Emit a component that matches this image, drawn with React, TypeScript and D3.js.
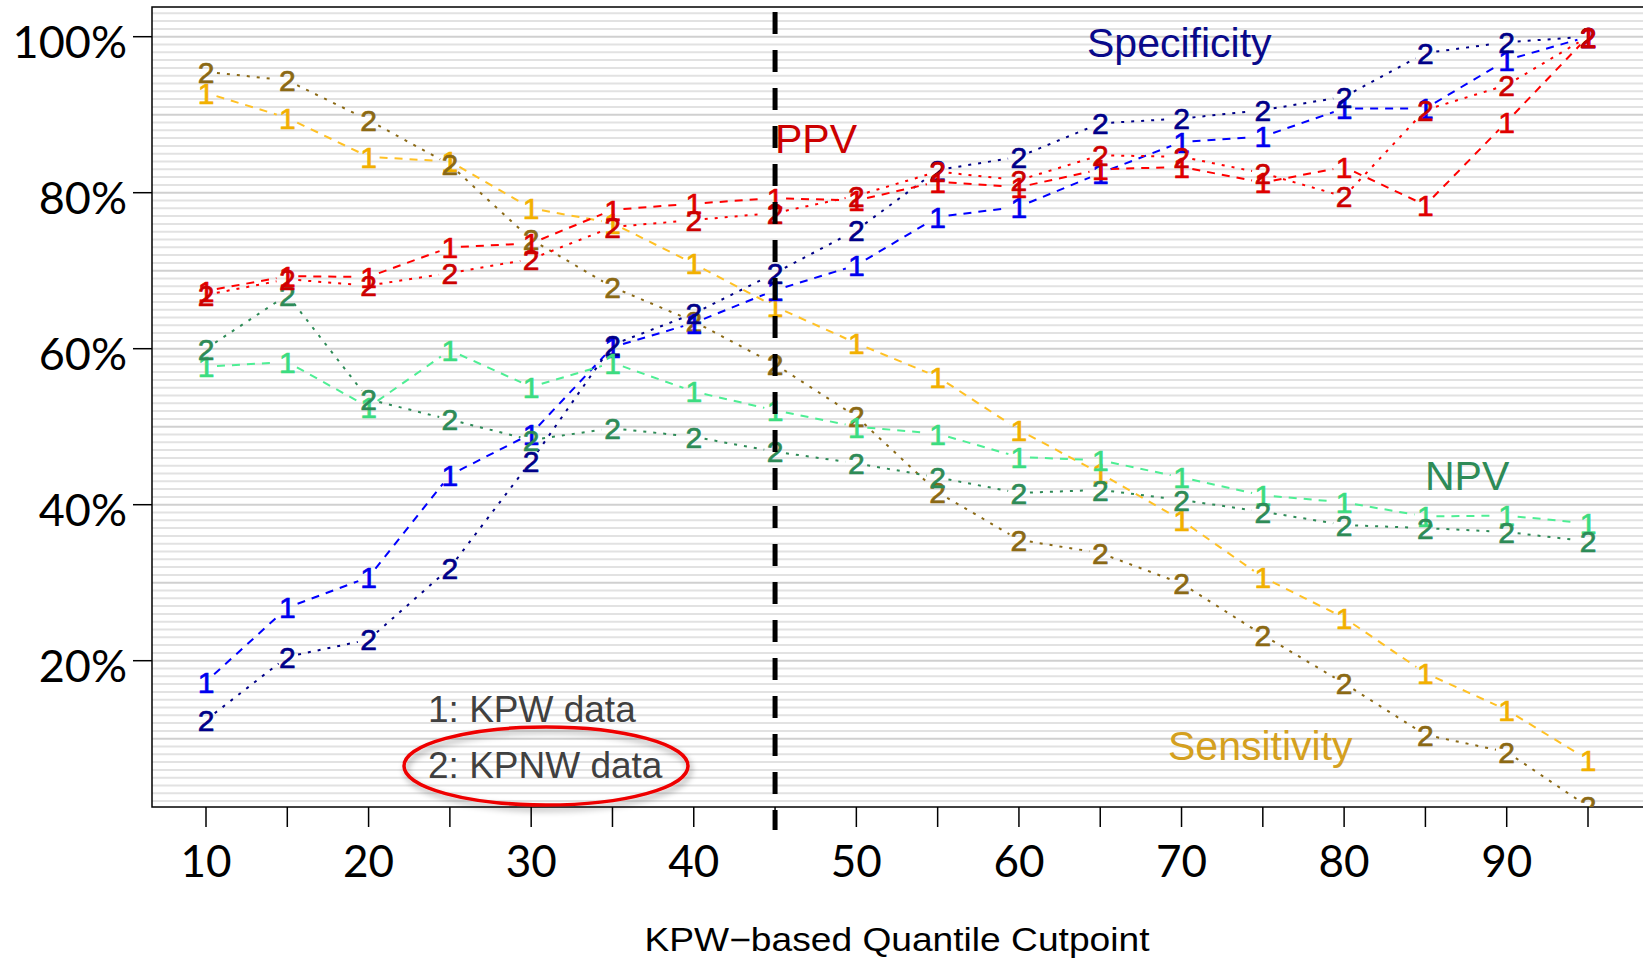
import { useEffect } from 'react';
import * as d3 from 'd3';

// quantile cutpoints (x axis)
const cutpoints = [10, 15, 20, 25, 30, 35, 40, 45, 50, 55, 60, 65, 70, 75, 80, 85, 90, 95];

// 1 = KPW data, 2 = KPNW data (percent)
const specificity1 = [17.3, 26.8, 30.7, 43.8, 49.1, 60.2, 63.3, 67.5, 70.7, 76.9, 78.2, 82.5, 86.5, 87.2, 90.8, 90.8, 97.0, 100];
const specificity2 = [12.4, 20.5, 22.7, 31.9, 45.6, 60.5, 64.5, 69.7, 75.2, 82.9, 84.6, 88.9, 89.5, 90.6, 92.3, 97.9, 99.3, 100];
const ppv1 = [67.4, 69.3, 69.2, 73.0, 73.5, 77.8, 78.6, 79.3, 79.0, 81.4, 80.7, 83.0, 83.3, 81.3, 83.3, 78.4, 89.1, 100];
const ppv2 = [66.9, 68.9, 68.1, 69.7, 71.5, 75.6, 76.5, 77.4, 79.6, 82.7, 81.6, 84.8, 84.6, 82.5, 79.5, 90.6, 93.8, 100];
const npv1 = [57.7, 58.3, 52.5, 59.8, 55.1, 58.2, 54.5, 52.1, 50.0, 49.1, 46.1, 45.7, 43.5, 41.2, 40.3, 38.5, 38.6, 37.6];
const npv2 = [60.0, 66.9, 53.5, 50.9, 48.3, 49.8, 48.7, 46.8, 45.3, 43.5, 41.5, 41.9, 40.6, 39.1, 37.4, 37.0, 36.5, 35.3];
const sensitivity1 = [92.8, 89.6, 84.6, 84.0, 78.0, 76.1, 70.9, 65.4, 60.7, 56.4, 49.6, 44.0, 38.0, 30.7, 25.5, 18.4, 13.7, 7.3];
const sensitivity2 = [95.5, 94.4, 89.3, 83.6, 74.0, 67.9, 63.5, 58.0, 51.3, 41.6, 35.5, 33.8, 29.9, 23.3, 17.1, 10.5, 8.3, 1.3];

const yTicks = [20, 40, 60, 80, 100];
const xLabelTicks = [10, 20, 30, 40, 50, 60, 70, 80, 90];
const cutoffLine = 45;

interface Series {
  values: number[];
  mark: string;
  line: string;
  text: string;
  dash: string;
}

// drawing order: later ones on top
const series: Series[] = [
  { values: sensitivity1, mark: '1', line: '#ffc125', text: '#f2b000', dash: '8,7' },
  { values: sensitivity2, mark: '2', line: '#8b6914', text: '#8b6914', dash: '3,7' },
  { values: specificity1, mark: '1', line: '#0000ff', text: '#0000ee', dash: '8,7' },
  { values: specificity2, mark: '2', line: '#000088', text: '#000088', dash: '3,7' },
  { values: npv1, mark: '1', line: '#4eee94', text: '#3cdc80', dash: '8,7' },
  { values: npv2, mark: '2', line: '#2e8b57', text: '#2e8b57', dash: '3,7' },
  { values: ppv1, mark: '1', line: '#ff0000', text: '#e00000', dash: '8,7' },
  { values: ppv2, mark: '2', line: '#ff0000', text: '#cc0000', dash: '3,7' },
];

const W = 1643;
const H = 961;
const plot = { left: 152, top: 7, right: 1660, bottom: 807 };

const x = d3.scaleLinear().domain([10, 95]).range([206, 1588]);
const y = d3.scaleLinear().domain([0, 100]).range([816.7, 36.7]);

const GAP = 11;
const lineGen = d3.line<[number, number]>().x(d => d[0]).y(d => d[1]);

// segments between points, with a gap around each marker (like type="b")
function segments(values: number[]) {
  const out: string[] = [];
  for (let i = 0; i < values.length - 1; i++) {
    const x0 = x(cutpoints[i]), y0 = y(values[i]);
    const x1 = x(cutpoints[i + 1]), y1 = y(values[i + 1]);
    const len = Math.hypot(x1 - x0, y1 - y0);
    if (len <= GAP * 2) continue;
    const ux = (x1 - x0) / len, uy = (y1 - y0) / len;
    out.push(lineGen([[x0 + ux * GAP, y0 + uy * GAP], [x1 - ux * GAP, y1 - uy * GAP]]) || '');
  }
  return out;
}

const gridValues = d3.range(2, 104, 1);

export default function App() {
  useEffect(() => {
    document.body.style.margin = '0';
  }, []);

  const sans = '"Liberation Sans", Arial, sans-serif';
  const tickFont = 'Lato, "Open Sans", sans-serif';

  return (
    <svg width={W} height={H} style={{ display: 'block', background: '#fff' }}>
      <defs>
        <clipPath id="plotClip">
          <rect x={plot.left} y={plot.top} width={plot.right - plot.left} height={plot.bottom - plot.top} />
        </clipPath>
        <filter id="shadow" x="-20%" y="-40%" width="140%" height="180%">
          <feDropShadow dx="2" dy="4" stdDeviation="3" floodColor="#000" floodOpacity="0.35" />
        </filter>
      </defs>

      {/* background stripes */}
      <g clipPath="url(#plotClip)">
        {gridValues.map(v => (
          <line
            key={v}
            x1={plot.left}
            x2={plot.right}
            y1={y(v)}
            y2={y(v)}
            stroke={v % 10 === 0 ? '#d0d0d0' : '#e2e2e2'}
            strokeWidth={2}
          />
        ))}
      </g>

      {/* frame */}
      <rect
        x={plot.left}
        y={plot.top}
        width={plot.right - plot.left}
        height={plot.bottom - plot.top}
        fill="none"
        stroke="#000"
        strokeWidth={1.5}
      />

      {/* y axis */}
      {yTicks.map(t => (
        <g key={t}>
          <line x1={133} x2={plot.left} y1={y(t)} y2={y(t)} stroke="#000" strokeWidth={1.5} />
          <text x={127} y={y(t) + 21} textAnchor="end" fontFamily={tickFont} fontSize={45} fill="#000">
            {t}%
          </text>
        </g>
      ))}

      {/* x axis */}
      {cutpoints.map(c => (
        <line key={c} x1={x(c)} x2={x(c)} y1={plot.bottom} y2={plot.bottom + 20} stroke="#000" strokeWidth={1.5} />
      ))}
      {xLabelTicks.map(c => (
        <text key={c} x={x(c)} y={877} textAnchor="middle" fontFamily={tickFont} fontSize={44} fill="#000">
          {c}
        </text>
      ))}
      <text
        x={897}
        y={951}
        textAnchor="middle"
        fontFamily={sans}
        fontSize={33}
        textLength={505}
        lengthAdjust="spacingAndGlyphs"
        fill="#000"
      >
        KPW−based Quantile Cutpoint
      </text>

      {/* data */}
      <g clipPath="url(#plotClip)">
        {series.map((s, si) => (
          <g key={si}>
            {segments(s.values).map((d, i) => (
              <path key={i} d={d} fill="none" stroke={s.line} strokeWidth={2} strokeDasharray={s.dash} />
            ))}
          </g>
        ))}
        {series.map((s, si) => (
          <g key={'m' + si}>
            {s.values.map((v, i) => (
              <text
                key={i}
                x={x(cutpoints[i])}
                y={y(v)}
                dy="0.36em"
                textAnchor="middle"
                fontFamily={sans}
                fontSize={30}
                fill={s.text}
                stroke={s.text}
                strokeWidth={0.7}
              >
                {s.mark}
              </text>
            ))}
          </g>
        ))}
      </g>

      {/* cutoff line */}
      <line
        x1={x(cutoffLine)}
        x2={x(cutoffLine)}
        y1={12}
        y2={830}
        stroke="#000"
        strokeWidth={5}
        strokeDasharray="22,16"
      />

      {/* series labels */}
      <text x={1087} y={57} fontFamily={sans} fontSize={41} fill="#0a0a8a">Specificity</text>
      <text x={775} y={153} fontFamily={sans} fontSize={41} fill="#cc0000">PPV</text>
      <text x={1425} y={490} fontFamily={sans} fontSize={41} fill="#2e8b57">NPV</text>
      <text x={1168} y={760} fontFamily={sans} fontSize={41} fill="#d4a020">Sensitivity</text>

      {/* legend */}
      <text x={428} y={722} fontFamily={sans} fontSize={37} fill="#404040">1: KPW data</text>
      <text x={428} y={778} fontFamily={sans} fontSize={37} fill="#404040">2: KPNW data</text>
      <ellipse cx={546} cy={766} rx={142} ry={39} fill="none" stroke="#ee0000" strokeWidth={3.5} filter="url(#shadow)" />
    </svg>
  );
}
